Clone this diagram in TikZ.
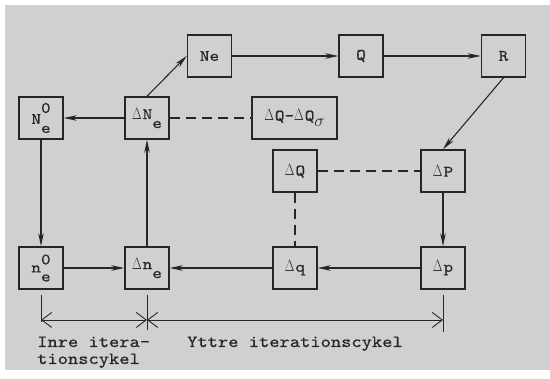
\documentclass[tikz,border=0pt]{standalone}
\usepackage{graphicx}
\usepackage{fontspec}
\setmonofont{lmmono10-regular.otf}[FakeStretch=1.15,FakeBold=0.5]
\usetikzlibrary{arrows.meta}
\definecolor{paper}{RGB}{208,208,206}
\definecolor{ink}{RGB}{38,38,38}
\newcommand{\lowr}[1]{\raisebox{-9pt}{#1}}
\newcommand{\uppr}[2]{\rlap{\raisebox{#1}{#2}}}
\newcommand{\GD}{\scalebox{0.72}[0.95]{$\Delta$}\hspace{1pt}}
\begin{document}
\begin{tikzpicture}[x=1pt,y=-1pt,
  box/.style={draw=ink, line width=1.5pt, minimum width=44pt, minimum height=42pt,
    inner sep=0pt, text=ink, font=\ttfamily\fontsize{16}{18}\selectfont},
  conn/.style={draw=ink, line width=1.1pt, -{Stealth[length=13pt,width=5.5pt,inset=4pt]}},
  dsh/.style={draw=ink, line width=1.1pt, dash pattern=on 10pt off 6pt},
  dimln/.style={draw=ink, line width=0.9pt},
  lbl/.style={font=\ttfamily\fontsize{17}{17}\selectfont, text=ink, inner sep=0pt, align=left}
]
\useasboundingbox (0,0) rectangle (550,379);
\fill[paper] (5,5) rectangle (550,370);

% top row
\node[box] (Ne) at (209.5,56) {Ne};
\node[box] (Q)  at (361,56) {Q};
\node[box] (R)  at (503.5,56) {R};
% second row
\node[box] (N0) at (41,118) {N\uppr{11pt}{0}\lowr{e}};
\node[box] (DN) at (147,118) {\GD N\lowr{e}};
\node[box, minimum width=85pt] (DQQ) at (294.5,118) {\GD Q-\GD Q\raisebox{-6pt}{$\sigma$}};
% third row
\node[box] (DQ) at (295,171) {\GD Q};
\node[box] (DP) at (443,171) {\GD P};
% bottom row
\node[box] (n0) at (41,268) {n\uppr{8pt}{0}\lowr{e}};
\node[box] (Dn) at (147,268) {\GD n\lowr{e}};
\node[box] (Dq) at (295,268) {\GD q};
\node[box] (Dp) at (443,268) {\GD p};

% connectors
\draw[conn] (DN.north) -- (Ne.west);
\draw[conn] (Ne) -- (Q);
\draw[conn] (Q) -- (R);
\draw[conn] (R.south) -- (DP.north);
\draw[conn] (DP) -- (Dp);
\draw[conn] (Dp) -- (Dq);
\draw[conn] (Dq) -- (Dn);
\draw[conn] (n0) -- (Dn);
\draw[conn] (Dn) -- (DN);
\draw[conn] (DN) -- (N0);
\draw[conn] (N0) -- (n0);
\draw[dsh] (DN) -- (DQQ);
\draw[dsh] (DQ) -- (DP);
\draw[dsh] (DQ) -- (Dq);

% dimension line
\coordinate (tA) at (41,295);
\coordinate (tB) at (147,295);
\coordinate (tC) at (443,295);
\coordinate (dA) at (41,320);
\coordinate (dB) at (147,320);
\coordinate (dC) at (443,320);
\coordinate (eA) at (41,322);
\coordinate (eB) at (147,330);
\coordinate (eC) at (443,332);
\draw[dimln] (tA) -- (eA);
\draw[dimln] (tB) -- (eB);
\draw[dimln] (tC) -- (eC);
\draw[dimln, {Straight Barb[length=10pt,width=15pt]}-{Straight Barb[length=10pt,width=15pt]}] (dA) -- (dB);
\draw[dimln, {Straight Barb[length=10pt,width=15pt]}-{Straight Barb[length=10pt,width=15pt]}] (dB) -- (dC);

\node[lbl, anchor=base west] (inre) at (37,364) {Inre itera-\\tionscykel};
\node[lbl, anchor=base west] (yttre) at (187,347) {Yttre iterationscykel};
\end{tikzpicture}
\end{document}
